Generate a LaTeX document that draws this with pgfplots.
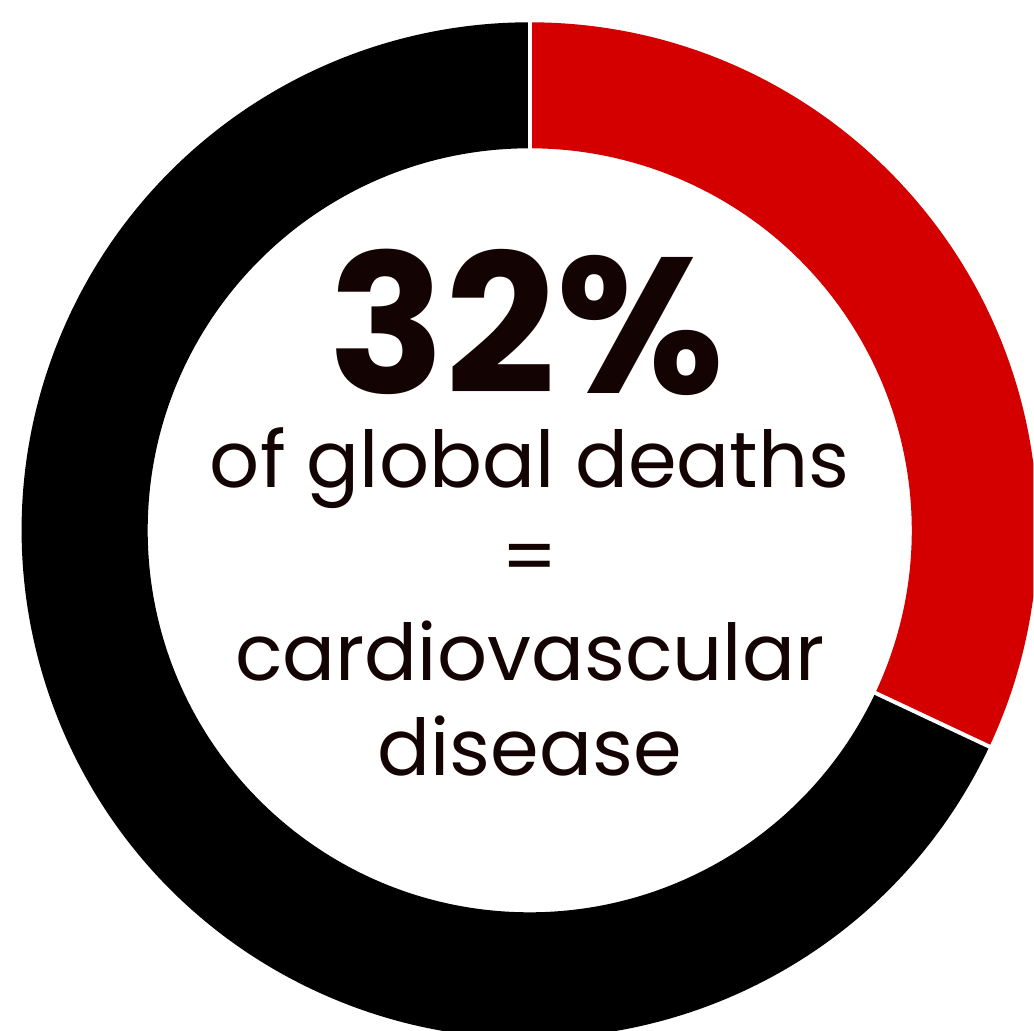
\documentclass[border=0pt]{standalone}
\usepackage{pgfplots}
\pgfplotsset{compat=1.18}
\usepackage{pgfplotstable}
\usetikzlibrary{calc}
\usepackage{fontspec}
\setmainfont{Poppins}
\definecolor{cvdred}{HTML}{D40000}
\definecolor{txt}{HTML}{140303}
\pgfplotstableread{
label value
CVD 32
Other 68
}\datatable
\pgfplotstablegetelem{0}{value}\of\datatable
\pgfmathsetmacro{\aend}{90-3.6*\pgfplotsretval}
\pgfmathsetmacro{\afull}{90-360}
\begin{document}
\begin{tikzpicture}
\useasboundingbox (0,0) rectangle (10.34cm,10.30cm);
\begin{axis}[
  at={(0,0)}, anchor=south west,
  x=0.01cm, y=0.01cm, xmin=0, xmax=1034, ymin=0, ymax=1030,
  hide axis, clip=true,
]
\coordinate (C) at (axis cs:530,500);
\fill[cvdred] ($(C)+(90:5.08cm)$) arc[start angle=90,end angle=\aend,radius=5.08cm]
  -- ($(C)+(\aend:3.82cm)$) arc[start angle=\aend,end angle=90,radius=3.82cm] -- cycle;
\fill[black] ($(C)+(\aend:5.08cm)$) arc[start angle=\aend,end angle=\afull,radius=5.08cm]
  -- ($(C)+(\afull:3.82cm)$) arc[start angle=\afull,end angle=\aend,radius=3.82cm] -- cycle;
\draw[white, line width=0.04cm] ($(C)+(90:3.75cm)$) -- ($(C)+(90:5.15cm)$);
\draw[white, line width=0.04cm] ($(C)+(\aend:3.75cm)$) -- ($(C)+(\aend:5.15cm)$);
\node[anchor=base, text=txt, inner sep=0pt, font=\bfseries\fontsize{55}{55}\selectfont] at (axis cs:527,637) {32\%};
\node[anchor=base, text=txt, inner sep=0pt, font=\fontsize{22.3}{22}\selectfont] at (axis cs:530,543) {of global deaths};
\node[anchor=base, text=txt, inner sep=0pt, font=\fontsize{22.3}{22}\selectfont] at (axis cs:530,446) {=};
\node[anchor=base, text=txt, inner sep=0pt, font=\fontsize{22.3}{22}\selectfont] at (axis cs:530,350) {cardiovascular};
\node[anchor=base, text=txt, inner sep=0pt, font=\fontsize{22.3}{22}\selectfont] at (axis cs:530,255) {disease};
\end{axis}
\end{tikzpicture}
\end{document}
